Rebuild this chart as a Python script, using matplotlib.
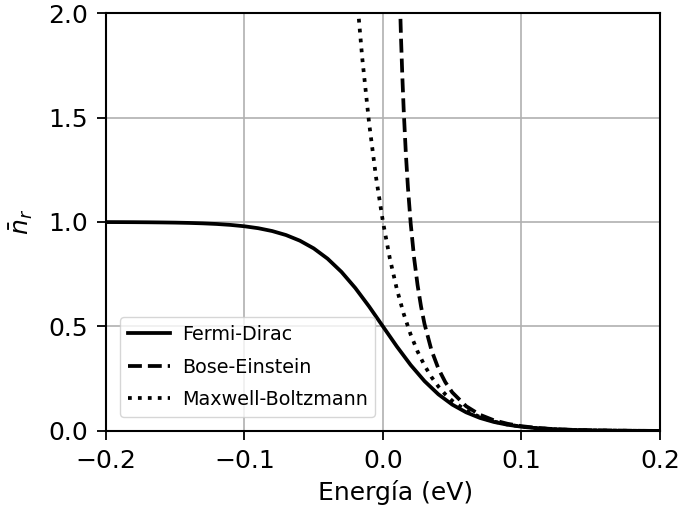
import matplotlib
matplotlib.use("Agg")
import matplotlib.pyplot as plt

# Fermi-Dirac
energia_fd = [-0.20, -0.19, -0.18, -0.17, -0.16, -0.15, -0.14, -0.13, -0.12, -0.11,
              -0.10, -0.09, -0.08, -0.07, -0.06, -0.05, -0.04, -0.03, -0.02, -0.01,
              0.00, 0.01, 0.02, 0.03, 0.04, 0.05, 0.06, 0.07, 0.08, 0.09,
              0.10, 0.11, 0.12, 0.13, 0.14, 0.15, 0.16, 0.17, 0.18, 0.19, 0.20]
n_fd = [0.9996, 0.9994, 0.9991, 0.9986, 0.9979, 0.9970, 0.9956, 0.9935, 0.9905, 0.9860,
        0.9795, 0.9702, 0.9567, 0.9375, 0.9106, 0.8737, 0.8245, 0.7614, 0.6843, 0.5955,
        0.5000, 0.4045, 0.3157, 0.2386, 0.1755, 0.1263, 0.0894, 0.0625, 0.0433, 0.0298,
        0.0205, 0.0140, 0.0095, 0.0065, 0.0044, 0.0030, 0.0021, 0.0014, 0.0009, 0.0006, 0.0004]

# Bose-Einstein
energia_be = [0.012, 0.013, 0.014, 0.015, 0.0165, 0.018, 0.020, 0.0225, 0.025, 0.0275,
              0.030, 0.035, 0.040, 0.045, 0.050, 0.06, 0.07, 0.08, 0.09, 0.10,
              0.11, 0.12, 0.13, 0.14, 0.15, 0.16, 0.17, 0.18, 0.19, 0.20]
n_be = [2.117, 1.885, 1.693, 1.530, 1.329, 1.167, 0.9935, 0.8263, 0.6970, 0.5946,
        0.5118, 0.3869, 0.2986, 0.2338, 0.1850, 0.1187, 0.0776, 0.0514, 0.0344, 0.0231,
        0.0155, 0.0105, 0.0071, 0.0048, 0.0033, 0.0022, 0.0015, 0.0010, 0.0007, 0.0005]

# Maxwell-Boltzmann
energia_mb = [-0.020, -0.015, -0.010, -0.005, 0.000, 0.005, 0.010, 0.015, 0.020, 0.025,
              0.030, 0.035, 0.040, 0.045, 0.050, 0.06, 0.07, 0.08, 0.09, 0.10,
              0.11, 0.12, 0.13, 0.14, 0.15, 0.16, 0.17, 0.18, 0.19, 0.20]
n_mb = [2.1677, 1.7865, 1.4723, 1.2134, 1.0000, 0.8241, 0.6792, 0.5597, 0.4613, 0.3802,
        0.3133, 0.2582, 0.2128, 0.1754, 0.1445, 0.0982, 0.0667, 0.0453, 0.0308, 0.0209,
        0.0142, 0.0096, 0.0065, 0.0044, 0.0030, 0.0021, 0.0014, 0.0009, 0.0006, 0.0004]

xticks = [-0.2, -0.1, 0.0, 0.1, 0.2]
yticks = [0.0, 0.5, 1.0, 1.5, 2.0]

fig = plt.figure(figsize=(6.82, 5.14), dpi=100)
ax = fig.add_axes([0.1554, 0.1615, 0.8123, 0.8132])

ax.plot(energia_fd, n_fd, "k-", lw=2.7, label="Fermi-Dirac")
ax.plot(energia_be, n_be, "k--", lw=2.7, label="Bose-Einstein")
ax.plot(energia_mb, n_mb, "k:", lw=2.7, label="Maxwell-Boltzmann")

ax.set_xlim(-0.2, 0.2)
ax.set_ylim(0, 2)
ax.set_xticks(xticks)
ax.set_yticks(yticks)
ax.grid(True, color="#b0b0b0", lw=1.2)
ax.tick_params(labelsize=18, length=6.7, width=1.3, pad=6)
for s in ax.spines.values():
    s.set_linewidth(1.5)

ax.set_xlabel("Energía (eV)", fontsize=18, labelpad=5.5)
ax.xaxis.label.set_x(0.5235)
ax.set_ylabel(r"$\bar{n}_r$", fontsize=18, labelpad=10)
ax.legend(loc="lower left", fontsize=13.8, borderaxespad=0.75,
          handlelength=2.2, handletextpad=0.6, labelspacing=0.7)

fig.savefig("out.png", dpi=100)
